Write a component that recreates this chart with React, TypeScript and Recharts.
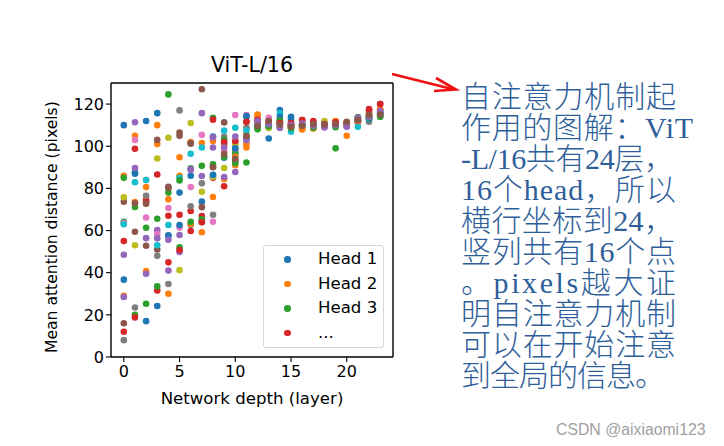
import { ScatterChart, Scatter, XAxis, YAxis, ReferenceLine, Legend } from "recharts";

const depths = [0, 1, 2, 3, 4, 5, 6, 7, 8, 9, 10, 11, 12, 13, 14, 15, 16, 17, 18, 19, 20, 21, 22, 23];
const xTicks = [0, 5, 10, 15, 20];
const yTicks = [0, 20, 40, 60, 80, 100, 120];
const legendItems = ["Head 1", "Head 2", "Head 3", "..."];

const head1 = [110, 87, 112, 115.7, 57.5, 78, 86, 73.7, 104.6, 94.5, 96.3, 114, 110, 110, 117.2, 114, 110, 110, 110, 110, 110, 112, 113, 115];
const head2 = [86, 105, 80.6, 110, 30, 86, 102, 101.5, 102.5, 84.5, 91, 101, 115, 112, 113, 110, 108, 108.4, 109.5, 112, 105, 111, 114, 117.5];
const head3 = [64.2, 20, 61.3, 65.6, 78, 52, 89.5, 90.7, 113.5, 95, 97, 92.3, 108, 109, 112, 109, 110, 109, 109.5, 99, 111, 113.7, 115, 114];
const head4 = [55, 98.8, 74.5, 31.6, 67, 67.5, 69.3, 66.9, 85, 81, 102, 111.6, 113, 111, 111, 110, 112.4, 111, 110, 111, 111, 112, 117.6, 120];
const head5 = [48.5, 111.4, 56.4, 60.2, 41, 49.8, 88.9, 115.7, 104.2, 85.4, 87.8, 103, 112, 110, 108.8, 110, 110.5, 110, 109, 110.5, 109.5, 113.5, 114, 116.7];
const head6 = [73.7, 59.4, 52.8, 51, 80.8, 105, 101.2, 71.1, 90.3, 111.3, 93, 105, 110, 112, 111, 109.5, 110, 110, 110.5, 110.5, 111, 112.5, 115, 115];
const head7 = [63.5, 103, 66.2, 58.3, 70.7, 61.4, 80.6, 105.4, 64.2, 97.5, 114.8, 114.8, 111, 113.5, 112, 110, 109, 109.5, 108.9, 110, 110, 111, 114, 115];
const head8 = [8, 23.5, 76.5, 48, 34.6, 117, 71.5, 82.4, 67.5, 104.5, 98.7, 108.8, 112, 110, 110, 111, 109.5, 110, 110, 110, 110.5, 112, 111.6, 115];
const head9 = [75.8, 53, 84, 94.2, 104, 41.2, 111, 78.4, 85.4, 89.7, 100.6, 106, 109, 108.6, 109, 108.5, 109, 109.5, 112, 111, 110, 113, 113, 115.5];
const head10 = [63, 82.9, 84, 53, 62.6, 85, 96.4, 99.4, 86.3, 107.4, 108.8, 107.4, 109.5, 110, 115.6, 106.9, 110, 110, 110.5, 110.5, 110.5, 109.2, 113, 115.5];
const head11 = [36.7, 87.5, 17, 24.2, 57.8, 62.6, 62.8, 64, 86.5, 101, 99, 114.3, 109.7, 103.7, 114, 112.7, 110.5, 110.3, 110, 110.4, 110.3, 112, 113, 116];
const head12 = [29, 73.5, 40.8, 101, 74.8, 94.8, 63, 59.2, 75.9, 100.5, 95, 99.4, 114.8, 111, 111, 110, 108, 108.6, 110.3, 111.8, 110, 112, 116, 117.5];
const head13 = [85, 71.2, 25.3, 33.5, 124.6, 83.8, 64.2, 65.3, 91.4, 103, 92, 104, 108.5, 109.5, 112.2, 108.5, 110, 108.8, 109.6, 109, 111, 113.7, 113.7, 114];
const head14 = [12, 18.8, 73.5, 86.6, 44.9, 50.8, 59.8, 63.9, 112.6, 102, 102.5, 111.6, 112.5, 111, 111, 111, 112.4, 112, 110.5, 111.3, 111.4, 112.5, 117, 120];
const head15 = [28.5, 89.7, 39.5, 56.3, 55.6, 57.9, 89, 85.9, 99.4, 99.4, 104.6, 103, 112, 110.5, 108.8, 110, 110.8, 109.7, 109.2, 110, 109.3, 113.5, 114, 116.7];
const head16 = [16, 72.9, 72.7, 103, 80.2, 106.5, 101.5, 127, 90, 96.3, 94, 104.8, 109.7, 112, 110.3, 109.2, 109.7, 110.5, 110.3, 110.6, 111.6, 112.4, 114.8, 115];

const heads = [head1, head2, head3, head4, head5, head6, head7, head8, head9, head10, head11, head12, head13, head14, head15, head16];
const colors = ["#1f77b4", "#ff7f0e", "#2ca02c", "#d62728", "#9467bd", "#8c564b", "#e377c2", "#7f7f7f", "#bcbd22", "#17becf"];

const noteLines = [
  "自注意力机制起",
  "作用的图解：ViT",
  "-L/16共有24层，",
  "16个head，所以",
  "横行坐标到24，",
  "竖列共有16个点",
  "。pixels越大证",
  "明自注意力机制",
  "可以在开始注意",
  "到全局的信息。",
];
const noteWidths = [215, 232, 213, 215, 213, 215, 215, 215, 215, 204];

const font = "'DejaVu Sans'";

const Dot = (props: any) => <circle cx={props.cx} cy={props.cy} r={3.3} fill={props.fill} />;

function HeadLegend() {
  return (
    <div
      style={{
        width: 119,
        height: 101,
        border: "1px solid #d5d5d5",
        borderRadius: 3,
        background: "rgba(255,255,255,0.8)",
        fontFamily: font,
        fontSize: 16.6,
        color: "#000",
        position: "relative",
      }}
    >
      {legendItems.map((name, i) => (
        <div key={name} style={{ position: "absolute", top: 3 + i * 24.6, left: 0, height: 20, lineHeight: "20px" }}>
          <span
            style={{
              position: "absolute",
              left: 20,
              top: 7,
              width: 6.6,
              height: 6.6,
              borderRadius: "50%",
              background: colors[i],
            }}
          />
          <span style={{ position: "absolute", left: 54, whiteSpace: "nowrap" }}>{name}</span>
        </div>
      ))}
    </div>
  );
}

export default function App() {
  return (
    <div style={{ position: "absolute", left: 0, top: 0, width: 724, height: 446, background: "#fff" }}>
      <ScatterChart width={724} height={446} margin={{ top: 83, right: 331, bottom: 59, left: 71 }}>
        <XAxis
          type="number"
          dataKey="x"
          domain={[-1.15, 24.15]}
          ticks={xTicks}
          height={30}
          allowDataOverflow
          tickLine={{ stroke: "#000", strokeWidth: 1.1 }}
          axisLine={{ stroke: "#000", strokeWidth: 1.4 }}
          tickSize={5}
          tick={{ fill: "#000", fontFamily: font, fontSize: 16, dy: 2 }}
          label={{ value: "Network depth (layer)", position: "insideBottom", offset: -17, fill: "#000", fontFamily: font, fontSize: 16.6 }}
        />
        <YAxis
          type="number"
          dataKey="y"
          domain={[0, 130]}
          ticks={yTicks}
          width={40}
          allowDataOverflow
          tickLine={{ stroke: "#000", strokeWidth: 1.1 }}
          axisLine={{ stroke: "#000", strokeWidth: 1.4 }}
          tickSize={5}
          tick={{ fill: "#000", fontFamily: font, fontSize: 16 }}
          label={{ value: "Mean attention distance (pixels)", angle: -90, position: "insideLeft", dx: -25, dy: 133, fill: "#000", fontFamily: font, fontSize: 15.6 }}
        />
        <ReferenceLine y={130} stroke="#000" strokeWidth={1.4} />
        <ReferenceLine x={24.15} stroke="#000" strokeWidth={1.4} />
        {heads.map((values, h) => (
          <Scatter
            key={h}
            name={"Head " + (h + 1)}
            data={depths.map((d, i) => ({ x: d, y: values[i] }))}
            fill={colors[h % 10]}
            shape={Dot}
            isAnimationActive={false}
          />
        ))}
        <Legend
          layout="vertical"
          align="center"
          verticalAlign="middle"
          content={<HeadLegend />}
          wrapperStyle={{ left: 263, top: 245, width: 121, height: 103 }}
        />
      </ScatterChart>
      <svg width={724} height={446} style={{ position: "absolute", left: 0, top: 0, pointerEvents: "none" }}>
        <text x={252} y={72} textAnchor="middle" fontFamily={font} fontSize={20.6} fill="#000">
          ViT-L/16
        </text>
        <line x1={392} y1={74} x2={452} y2={89} stroke="#f01010" strokeWidth={2.6} />
        <path d="M436 78 L456 89.5 L434 91" fill="none" stroke="#f01010" strokeWidth={2.6} />
        {noteLines.map((line, i) => (
          <text
            key={i}
            x={461}
            y={107 + i * 31}
            textLength={noteWidths[i]}
            lengthAdjust="spacing"
            fontFamily="'Liberation Serif', 'Noto Sans CJK SC'"
            fontSize={30}
            fontWeight={300}
            fill="#2f5f9a"
          >
            {line}
          </text>
        ))}
        <text x={556} y={435} fontFamily="'Liberation Sans'" fontSize={15.8} fill="#a0a0a0">
          CSDN @aixiaomi123
        </text>
      </svg>
    </div>
  );
}
